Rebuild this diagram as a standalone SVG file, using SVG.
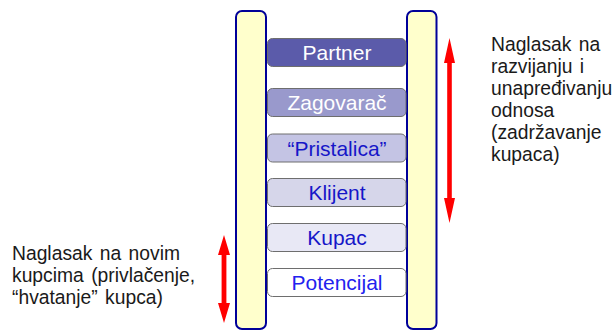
<svg xmlns="http://www.w3.org/2000/svg" width="616" height="331" viewBox="0 0 616 331">
<defs>
<style>
.rail{fill:#ffffcc;stroke:#000099;stroke-width:2}
.rung{stroke:#6e6e6e;stroke-width:1}
.rt{font-family:"Liberation Sans",Arial,sans-serif;font-size:21px;text-anchor:middle}
.note{font-family:"Liberation Sans",Arial,sans-serif;font-size:19.3px;fill:#1a1a1a;word-spacing:2px}
.arr{fill:#ff0000}
</style>
</defs>
<rect width="616" height="331" fill="#ffffff"/>
<g id="rail-left"><rect class="rail" x="236" y="11" width="30" height="318" rx="6"/></g>
<g id="rail-right"><rect class="rail" x="407" y="11" width="29.5" height="318" rx="6"/></g>
<g id="rungs">
<g id="partner"><rect class="rung" x="267.5" y="38.5" width="138.5" height="28" rx="5" fill="#5b5baa"/><text class="rt" x="337" y="59.5" fill="#ffffff">Partner</text></g>
<g id="zagovarac"><rect class="rung" x="267.5" y="88.5" width="138.5" height="28" rx="5" fill="#9999cc"/><text class="rt" x="337" y="109.5" fill="#ffffff">Zagovarač</text></g>
<g id="pristalica"><rect class="rung" x="267.5" y="134" width="138.5" height="28" rx="5" fill="#c4c4e4"/><text class="rt" x="337" y="155.5" fill="#1616c8">“Pristalica”</text></g>
<g id="klijent"><rect class="rung" x="267.5" y="178.5" width="138.5" height="28" rx="5" fill="#d6d6ea"/><text class="rt" x="337" y="200" fill="#1616c8">Klijent</text></g>
<g id="kupac"><rect class="rung" x="267.5" y="223.5" width="138.5" height="28" rx="5" fill="#e8e8f5"/><text class="rt" x="337" y="245" fill="#1616c8">Kupac</text></g>
<g id="potencijal"><rect class="rung" x="267.5" y="268.5" width="138.5" height="28" rx="5" fill="#ffffff"/><text class="rt" x="337" y="290" fill="#2222ee">Potencijal</text></g>
</g>
<g id="connectors">
<path class="arr" d="M449.5 38 L455 63 L451.8 63 L451.8 198 L455 198 L449.5 223 L444 198 L447.2 198 L447.2 63 L444 63 Z"/>
<path class="arr" d="M224 235 L230 255 L226.4 255 L226.4 303 L230 303 L224 323 L218 303 L221.6 303 L221.6 255 L218 255 Z"/>
</g>
<g id="note-right">
<text class="note" x="491" y="51">Naglasak na</text>
<text class="note" x="491" y="73">razvijanju i</text>
<text class="note" x="491" y="95">unapređivanju</text>
<text class="note" x="491" y="117">odnosa</text>
<text class="note" x="491" y="139">(zadržavanje</text>
<text class="note" x="491" y="161">kupaca)</text>
</g>
<g id="note-left">
<text class="note" x="12" y="260">Naglasak na novim</text>
<text class="note" x="12" y="282">kupcima (privlačenje,</text>
<text class="note" x="12" y="304">“hvatanje” kupca)</text>
</g>
</svg>
